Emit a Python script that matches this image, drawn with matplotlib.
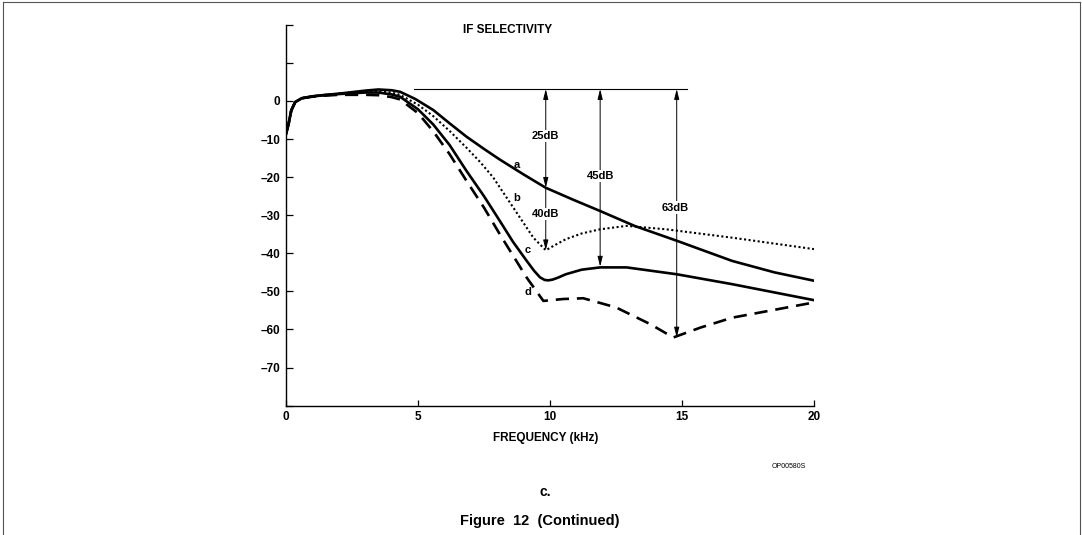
import matplotlib
matplotlib.use("Agg")
import matplotlib.pyplot as plt
from matplotlib.lines import Line2D

plt.rcParams['font.family'] = ['Liberation Sans', 'DejaVu Sans']
plt.rcParams['font.weight'] = 'bold'

# curve a (solid)
a_khz = [0, 0.1, 0.2, 0.35, 0.6, 1.0, 1.5, 2.0, 2.5, 3.0, 3.5, 4.0, 4.32, 4.9, 5.58, 6.2, 6.84, 7.5,
         8.1, 9.0, 9.84, 10.9, 11.9, 13.2, 14.8, 16.9, 18.5, 20]
a_db = [-8.7, -6.0, -2.5, -0.3, 0.7, 1.2, 1.6, 1.9, 2.3, 2.7, 3.0, 2.8, 2.4, 0.5, -2.4, -5.9, -9.4, -12.6,
        -15.4, -19.3, -22.8, -26.0, -28.9, -32.8, -36.7, -42.0, -45.0, -47.2]

# curve b (dotted)
b_khz = [0, 0.1, 0.2, 0.35, 0.6, 1.0, 1.5, 2.0, 2.5, 3.0, 3.5, 4.0, 4.32, 5.0, 5.58, 6.2, 6.84, 7.35,
         7.85, 8.61, 9.37, 9.84, 10.2, 10.6, 11.2, 11.9, 12.9, 14.4, 16.9, 20]
b_db = [-8.7, -6.0, -2.5, -0.3, 0.7, 1.2, 1.6, 1.9, 2.2, 2.5, 2.6, 2.2, 1.6, -1.0, -4.0, -7.9, -12.3, -16.0,
        -20.1, -28.0, -35.9, -39.2, -37.8, -36.3, -34.8, -33.7, -32.8, -33.7, -35.9, -38.9]

# curve c (solid)
c_khz = [0, 0.1, 0.2, 0.35, 0.6, 1.0, 1.5, 2.0, 2.5, 3.0, 3.5, 4.0, 4.32, 5.0, 5.58, 6.2, 6.84, 7.5,
         8.1, 8.6, 9.12, 9.4, 9.62, 9.8, 9.94, 10.1, 10.3, 10.6, 11.2, 11.9, 12.9, 14.8, 16.9, 20]
c_db = [-8.7, -6.0, -2.5, -0.3, 0.7, 1.2, 1.5, 1.8, 2.0, 2.2, 2.2, 1.7, 1.1, -2.2, -6.2, -11.6, -18.4, -25.0,
        -31.5, -37.0, -42.0, -44.6, -46.3, -47.0, -47.1, -46.9, -46.4, -45.5, -44.3, -43.7, -43.7, -45.5,
        -48.1, -52.3]

# curve d (dashed)
d_khz = [0, 0.1, 0.2, 0.35, 0.6, 1.0, 1.5, 2.0, 2.5, 3.0, 3.5, 4.0, 4.32, 5.0, 5.58, 6.2, 6.84, 7.5,
         8.1, 9.12, 9.75, 10.5, 11.26, 12.5, 13.8, 14.67, 15.7, 16.9, 20]
d_db = [-8.7, -6.0, -2.5, -0.3, 0.7, 1.1, 1.4, 1.6, 1.6, 1.6, 1.5, 1.0, 0.4, -3.2, -8.0, -14.0, -21.0, -28.0,
        -35.0, -46.4, -52.5, -52.0, -51.8, -54.2, -58.6, -62.1, -59.5, -56.9, -52.9]

ref_level = 3.1
ref_span = [4.85, 15.2]

# measurement arrows: x, bottom end (top end sits on the reference line)
arrow_x = [9.84, 11.9, 14.8]
arrow_bottom = [-22.8, -43.5, -62.1]
arrow_40_bottom = -39.2

dim_labels = ['25dB', '40dB', '45dB', '63dB']
dim_pos = [(9.84, -9.2), (9.84, -29.7), (11.9, -19.7), (14.76, -28.0)]

curve_labels = ['a', 'b', 'c', 'd']
curve_label_pos = [(8.76, -16.9), (8.74, -25.4), (9.17, -39.1), (9.17, -50.1)]

xticks = [0, 5, 10, 15, 20]
yticks = list(range(-80, 21, 10))
ytick_labels = ['' if (v < -70 or v > 0) else str(v).replace('-', '\u2013') for v in yticks]

fig = plt.figure(figsize=(10.82, 5.35), dpi=100)
ax = fig.add_axes([0.2643, 0.2417, 0.488, 0.7121])

ax.plot(a_khz, a_db, color='black', lw=1.9, solid_joinstyle='round')
ax.plot(b_khz, b_db, color='black', lw=1.5, linestyle=(0, (1, 1.2)))
ax.plot(c_khz, c_db, color='black', lw=1.9, solid_joinstyle='round')
ax.plot(d_khz, d_db, color='black', lw=1.9, linestyle=(0, (5, 3)))

ax.plot(ref_span, [ref_level, ref_level], color='black', lw=0.8)

astyle = dict(arrowstyle='<|-|>,head_length=0.6,head_width=0.15', color='black', lw=0.7,
              shrinkA=0, shrinkB=0)
for x, yb in zip(arrow_x, arrow_bottom):
    ax.annotate('', xy=(x, yb), xytext=(x, ref_level), arrowprops=astyle)
ax.annotate('', xy=(arrow_x[0], arrow_40_bottom), xytext=(arrow_x[0], arrow_bottom[0]),
            arrowprops=dict(arrowstyle='-|>,head_length=0.6,head_width=0.15', color='black',
                            lw=0.7, shrinkA=0, shrinkB=0))

for lab, (x, y) in zip(dim_labels, dim_pos):
    ax.text(x, y, lab, ha='center', va='center', fontsize=8, fontweight='bold',
            bbox=dict(fc='white', ec='none', pad=1.0))
for lab, (x, y) in zip(curve_labels, curve_label_pos):
    ax.text(x, y, lab, ha='center', va='center', fontsize=8, fontweight='bold')

ax.set_xlim(0, 20)
ax.set_ylim(-80, 20)
ax.set_xticks(xticks)
ax.set_xticklabels([str(v) for v in xticks])
ax.set_yticks(yticks)
ax.set_yticklabels(ytick_labels)
ax.tick_params(axis='both', direction='in', labelsize=8.5, width=0.9, color='black')
ax.tick_params(axis='x', length=4, pad=4)
ax.tick_params(axis='y', length=5, pad=4)
for lbl in ax.get_xticklabels() + ax.get_yticklabels():
    lbl.set_fontweight('bold')
ax.spines['top'].set_visible(False)
ax.spines['right'].set_visible(False)
ax.spines['left'].set_linewidth(1.0)
ax.spines['bottom'].set_linewidth(1.0)

fig.text(508 / 1082, 1 - 30 / 535, 'IF SELECTIVITY', ha='center', va='center', fontsize=8.5, fontweight='bold')
fig.text(546 / 1082, 1 - 438 / 535, 'FREQUENCY (kHz)', ha='center', va='center', fontsize=8.5, fontweight='bold')
fig.text(789 / 1082, 1 - 466 / 535, 'OP00580S', ha='center', va='center', fontsize=5, fontweight='normal')
fig.text(545 / 1082, 1 - 492 / 535, 'c.', ha='center', va='center', fontsize=10, fontweight='bold')
fig.text(540 / 1082, 1 - 521 / 535, 'Figure  12  (Continued)', ha='center', va='center', fontsize=10.5,
         fontweight='bold')

# page frame
for xs, ys in [([2.5 / 1082, 2.5 / 1082], [0, 1 - 2 / 535]),
               ([1079.5 / 1082, 1079.5 / 1082], [0, 1 - 2 / 535]),
               ([2.5 / 1082, 1079.5 / 1082], [1 - 2 / 535, 1 - 2 / 535])]:
    fig.add_artist(Line2D(xs, ys, color='#555555', lw=0.8, transform=fig.transFigure))

fig.savefig('out.png', dpi=100)
